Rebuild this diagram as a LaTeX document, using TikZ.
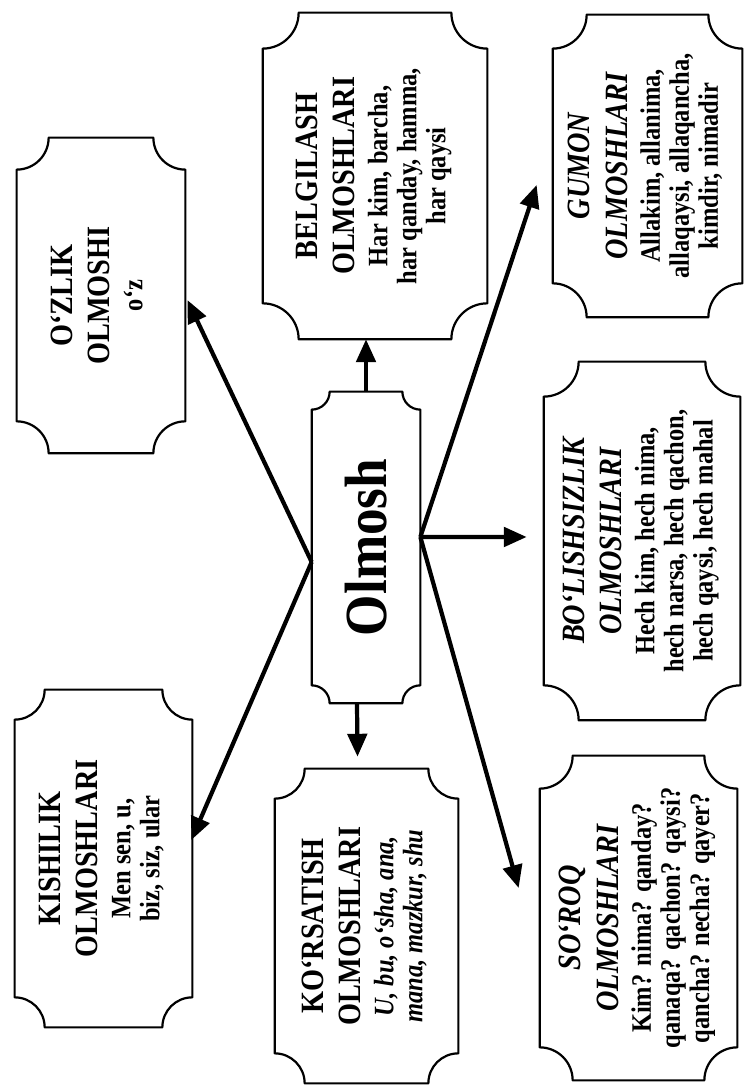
\documentclass[tikz,border=0pt]{standalone}
\usepackage{fontspec}
\usepackage{graphicx}
\setmainfont{Liberation Serif}
\usetikzlibrary{calc,arrows.meta}

\newcommand{\hdsize}{\fontsize{18.5}{20}\selectfont}
\newcommand{\bdsize}{\fontsize{16}{17}\selectfont}
\renewcommand{\arraystretch}{1.38}
% rotated text block, a little narrowed like the print
\newcommand{\upcell}[1]{\rotatebox{90}{\scalebox{0.87}[1]{\begin{tabular}{@{}c@{}}#1\end{tabular}}}}
% frame with cut-in corners round a node
\newcommand{\notched}[2]{%
  \draw[frame] ($(#1.north west)+(0,-#2)$) arc[start angle=270,end angle=360,radius=#2]
    -- ($(#1.north east)+(-#2,0)$) arc[start angle=180,end angle=270,radius=#2]
    -- ($(#1.south east)+(0,#2)$) arc[start angle=90,end angle=180,radius=#2]
    -- ($(#1.south west)+(#2,0)$) arc[start angle=0,end angle=90,radius=#2]
    -- cycle;}

\begin{document}
\begin{tikzpicture}
\tikzstyle{kind} = [rectangle, inner sep=0pt, font=\bfseries]
\tikzstyle{frame} = [line width=1.25pt, line join=round]
\tikzstyle{link} = [line width=2.4pt, -{Triangle[length=13pt,width=11pt]}]

\useasboundingbox (0,0) rectangle (14.92,21.72);

\node(olmosh) [kind, minimum width=2.16cm, minimum height=6.22cm] at (7.32,10.77)
  {\rotatebox{90}{\scalebox{0.89}[1]{\fontsize{34}{40}\selectfont Olmosh}}};
\node(kishilik) [kind, minimum width=3.54cm, minimum height=6.74cm] at (2.07,4.55)
  {\upcell{\hdsize KISHILIK\\[4pt] \hdsize OLMOSHLARI\\[2pt] \bdsize Men sen, u,\\ \bdsize biz, siz, ular}};
\node(ozlik) [kind, minimum width=3.36cm, minimum height=6.30cm] at (2.02,15.81)
  {\upcell{\hdsize O‘ZLIK\\[4pt] \hdsize OLMOSHI\\[2pt] \bdsize o‘z}};
\node(korsatish) [kind, minimum width=3.66cm, minimum height=6.28cm] at (7.33,3.20)
  {\upcell{\hdsize KO‘RSATISH\\[4pt] \hdsize OLMOSHLARI\\[2pt] \bdsize\itshape U, bu, o‘sha, ana,\\ \bdsize\itshape mana, mazkur, shu}};
\node(belgilash) [kind, minimum width=4.48cm, minimum height=6.52cm] at (7.50,18.20)
  {\upcell{\hdsize BELGILASH\\[4pt] \hdsize OLMOSHLARI\\[2pt] \bdsize Har kim, barcha,\\ \bdsize har qanday, hamma,\\ \bdsize har qaysi\hspace{3.4em}}};
\node(gumon) [kind, minimum width=3.78cm, minimum height=6.04cm] at (12.95,18.40)
  {\upcell{\hdsize\itshape GUMON\\[4pt] \hdsize\itshape OLMOSHLARI\\[2pt] \bdsize Allakim, allanima,\\ \bdsize allaqaysi, allaqancha,\\ \bdsize kimdir, nimadir}};
\node(bolish) [kind, minimum width=3.92cm, minimum height=7.16cm] at (12.84,10.90)
  {\upcell{\hdsize\itshape BO‘LISHSIZLIK\\[4pt] \hdsize\itshape OLMOSHLARI\\[2pt] \bdsize Hech kim, hech nima,\\ \bdsize hech narsa, hech qachon,\\ \bdsize hech qaysi, hech mahal}};
\node(soroq) [kind, minimum width=3.94cm, minimum height=6.48cm] at (12.77,3.36)
  {\upcell{\hdsize\itshape SO‘ROQ\\[4pt] \hdsize\itshape OLMOSHLARI\\[2pt] \bdsize Kim? nima? qanday?\\ \bdsize qanaqa? qachon? qaysi?\\ \bdsize qancha? necha? qayer?}};

\notched{olmosh}{0.36}
\notched{kishilik}{0.6}
\notched{ozlik}{0.64}
\notched{korsatish}{0.6}
\notched{belgilash}{0.72}
\notched{gumon}{0.68}
\notched{bolish}{0.7}
\notched{soroq}{0.66}

\coordinate (leftApex) at ($(olmosh.west)+(0,-0.29)$);
\coordinate (rightApex) at ($(olmosh.east)+(0,0.21)$);
\draw[link] (leftApex) -- ($(ozlik.east)+(0.04,-0.09)$);
\draw[link] (leftApex) -- ($(kishilik.east)+(-0.02,0.37)$);
\draw[link] (olmosh.north) -- (olmosh.north |- belgilash.south);
\draw[link] ($(olmosh.south)+(-0.18,0)$) -- ($(korsatish.north)+(-0.18,0.24)$);
\draw[link] (rightApex) -- ($(gumon.west)+(-0.32,-0.38)$);
\draw[link] (rightApex) -- ($(bolish.west)+(-0.34,0.08)$);
\draw[link] (rightApex) -- ($(soroq.west)+(-0.42,0.60)$);
\end{tikzpicture}
\end{document}
